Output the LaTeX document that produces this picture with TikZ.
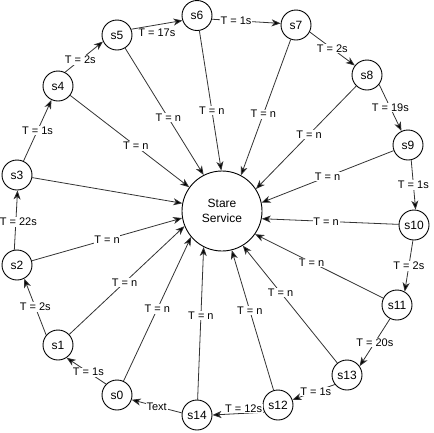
\documentclass[tikz,border=0pt]{standalone}
\usepackage{fontspec}
\setmainfont{Liberation Sans}
\usetikzlibrary{arrows.meta}
\begin{document}
\begin{tikzpicture}[x=1pt,y=-1pt,
  st/.style={circle,draw,line width=0.9pt,minimum size=30pt,inner sep=0pt,font=\fontsize{12}{14}\selectfont},
  hub/.style={circle,draw,line width=0.9pt,minimum size=80pt,inner sep=0pt,align=center,font=\fontsize{12}{15}\selectfont},
  ed/.style={draw=black!80,line width=0.8pt,-{Stealth[length=9pt,width=7pt,inset=2.5pt,fill=black]}},
  lb/.style={fill=white,inner sep=0.8pt,font=\fontsize{11}{13}\selectfont}]
\useasboundingbox (0,0) rectangle (434,432);
\node[hub] (c) at (222,211) {Stare\\Service};
\node[st] (s0) at (117,395) {s0};
\node[st] (s1) at (58,345) {s1};
\node[st] (s2) at (17,265) {s2};
\node[st] (s3) at (17,175) {s3};
\node[st] (s4) at (58,86) {s4};
\node[st] (s5) at (117,35) {s5};
\node[st] (s6) at (197,15.5) {s6};
\node[st] (s7) at (296,25) {s7};
\node[st] (s8) at (367,75) {s8};
\node[st] (s9) at (408,145) {s9};
\node[st] (s10) at (414,225) {s10};
\node[st] (s11) at (397,305) {s11};
\node[st] (s12) at (278,405) {s12};
\node[st] (s13) at (347,375) {s13};
\node[st] (s14) at (197,415) {s14};
% chain
\draw[ed] (s0.135) -- node[lb,pos=0.45]{T = 1s} (s1.304);
\draw[ed] (s1.140) -- node[lb]{T = 2s} (s2.298);
\draw[ed] (s2.100) -- node[lb,pos=0.47,xshift=2.5pt]{T = 22s} (s3.272);
\draw[ed] (s3.65) -- node[lb]{T = 1s} (s4.245);
\draw[ed] (s4.63) -- node[lb,pos=0.4]{T = 2s} (s5.205);
\draw[ed] (s5.22) -- node[lb,below=2.5pt,pos=0.5]{T = 17s} (s6.199);
\draw[ed] (s6.-14) -- node[lb,pos=0.35]{T = 1s} (s7.174);
\draw[ed] (s7.-27) -- node[lb]{T = 2s} (s8.142);
\draw[ed] (s8.-38) -- node[lb]{T = 19s} (s9.115);
\draw[ed] (s9.282) -- node[lb]{T = 1s} (s10.84);
\draw[ed] (s10.266) -- node[lb]{T = 2s} (s11.60);
\draw[ed] (s11.243) -- node[lb]{T = 20s} (s13.35);
\draw[ed] (s13.218) -- node[lb,pos=0.45]{T = 1s} (s12.20);
\draw[ed] (s12.208) -- node[lb,above=0pt,pos=0.4]{T = 12s} (s14.east);
\draw[ed] (s14.172) -- node[lb]{Text} (s0.-18);
% to hub
\draw[ed] (s0) -- node[lb]{T = n} (c.220);
\draw[ed] (s1) -- node[lb,pos=0.48]{T = n} (c.202);
\draw[ed] (s2) -- node[lb]{T = n} (c.190);
\draw[ed] (s3) -- (c.169);
\draw[ed] (s4) -- node[lb,pos=0.55]{T = n} (c.144);
\draw[ed] (s5) -- node[lb,pos=0.55]{T = n} (c.117);
\draw[ed] (s6) -- node[lb,pos=0.57]{T = n} (c.91);
\draw[ed] (s7) -- node[lb,pos=0.55]{T = n} (c.62);
\draw[ed] (s8) -- node[lb,pos=0.47]{T = n} (c.33);
\draw[ed] (s9) -- node[lb]{T = n} (c.12);
\draw[ed] (s10) -- node[lb,pos=0.53]{T = n} (c.-11);
\draw[ed] (s11) -- node[lb,pos=0.56]{T = n} (c.-35);
\draw[ed] (s13) -- node[lb,pos=0.6]{T = n} (c.-59);
\draw[ed] (s12) -- node[lb,pos=0.57]{T = n} (c.-76);
\draw[ed] (s14) -- node[lb,pos=0.55]{T = n} (c.-117);
\end{tikzpicture}
\end{document}
